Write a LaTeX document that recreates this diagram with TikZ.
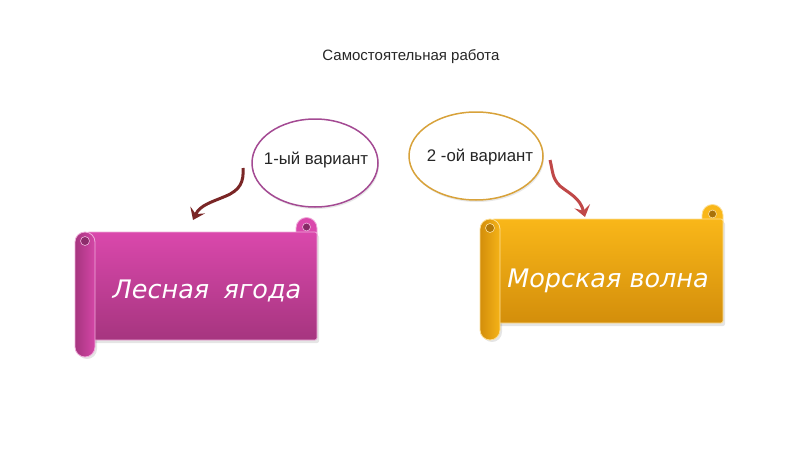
\documentclass[tikz,border=0pt]{standalone}
\usepackage{fontspec}
\setmainfont{Liberation Sans}
\newfontfamily\scrollfont{DejaVu Sans}
\usetikzlibrary{arrows.meta,shapes.geometric,shadows}
\definecolor{magtop}{HTML}{DA48AC}
\definecolor{magbot}{HTML}{A6357F}
\definecolor{orgtop}{HTML}{F9B719}
\definecolor{orgbot}{HTML}{D38E0B}
\definecolor{arrowdark}{HTML}{7A2626}
\definecolor{arrowred}{HTML}{C04848}
\definecolor{ellpurple}{HTML}{A44A93}
\definecolor{ellgold}{HTML}{D8A23A}
\tikzset{
  oval/.style={ellipse, fill=white, line width=1.5pt, minimum width=126pt, minimum height=88pt,
    drop shadow={opacity=0.18, shadow xshift=1pt, shadow yshift=-2pt}},
  ovaltext/.style={font=\fontsize{16.8}{19}\selectfont, text=black!85},
  scrolltext/.style={font=\scrollfont\itshape\fontsize{25.5}{28}\selectfont, text=white},
  curvyarrow/.style={line width=3pt, -{Stealth[length=11pt,width=16pt,inset=4.5pt]}},
}
% #1 x, #2 y, #3 width, #4 body height, #5 top colour, #6 bottom colour
\newcommand\drawscrollshape[6]{%
\begin{scope}[shift={(#1,#2)}]
  % soft shadow
  \fill[black,opacity=0.10, rounded corners=2pt] (14,3) rectangle ({#3+2},{#4+3});
  \fill[black,opacity=0.10] (2,12) arc[start angle=180,end angle=360,radius=10] -- (22,{#4+9})
    arc[start angle=0,end angle=180,radius=10] -- cycle;
  % top-right curl (behind body)
  \path[draw=white!55!#5, line width=0.8pt, fill=#5]
    ({#3-21},4) -- ({#3-21},-4) arc[start angle=180,end angle=360,radius=10.5] -- (#3,4) -- cycle;
  \path[fill=#6!80!black, draw=white!60!#5, line width=0.6pt] ({#3-10.5},-5) circle[radius=4];
  % body
  \path[draw=white!55!#5, line width=0.8pt, top color=#5, bottom color=#6, rounded corners=2pt]
    (12,0) rectangle (#3,#4);
  % left roll
  \path[draw=white!55!#5, line width=0.8pt, left color=#6, right color=#5!90!#6]
    (0,10) arc[start angle=180,end angle=360,radius=10] -- (20,{#4+7})
    arc[start angle=0,end angle=180,radius=10] -- cycle;
  \path[fill=#6!85!black, draw=white!60!#5, line width=0.6pt] (10,9) circle[radius=4.5];
\end{scope}}
\begin{document}
\begin{tikzpicture}[x=1pt,y=-1pt]
\useasboundingbox[fill=white] (0,0) rectangle (800,450);

% title
\node[font=\fontsize{15}{18}\selectfont, text=black!85] (title) at (411,57) {Самостоятельная работа};

% scrolls
\drawscrollshape{75}{232}{242}{108}{magtop}{magbot}
\drawscrollshape{480}{219}{243}{104}{orgtop}{orgbot}
\node[scrolltext] (s1) at (207,291) {Лесная\hspace{0.25em} ягода};
\node[scrolltext] (s2) at (608,281) {Морская волна};

% ovals
\node[oval, draw=ellpurple] (e1) at (315,163) {};
\node[ovaltext] (t1) at (316,160) {1-ый вариант};
\node[oval, draw=ellgold, minimum width=134pt] (e2) at (476,156) {};
\node[ovaltext] (t2) at (480,157) {2 -ой вариант};

% arrows
\coordinate (a1s) at (243,168);
\coordinate (a1e) at (193,220);
\coordinate (a2s) at (550,160);
\coordinate (a2e) at (585,217);
\draw[curvyarrow, arrowdark] (a1s) .. controls (244,182) and (240,190) .. (226,196)
  .. controls (212,202) and (200,205) .. (a1e);
\draw[curvyarrow, arrowred] (a2s) .. controls (553,172) and (552,178) .. (560,186)
  .. controls (570,194) and (580,198) .. (a2e);
\end{tikzpicture}
\end{document}
